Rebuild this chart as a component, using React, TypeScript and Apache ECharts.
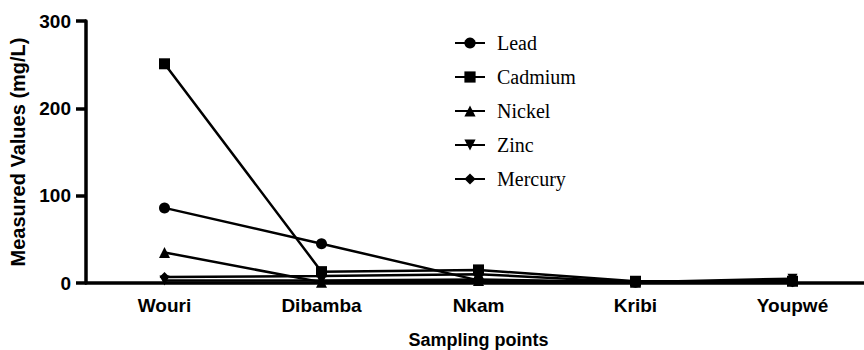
import React, { useEffect, useRef } from "react";
import * as echarts from "echarts";

const categories = ["Wouri", "Dibamba", "Nkam", "Kribi", "Youpwé"];
const lead = [86, 45, 3, 1, 2];
const cadmium = [251, 13, 15, 2, 2];
const nickel = [35, 1, 3, 1, 3];
const zinc = [3, 3, 4, 1, 5];
const mercury = [7, 8, 10, 1, 1];
const yTicks = { min: 0, max: 300, interval: 100 };

export default function App() {
  const ref = useRef<HTMLDivElement>(null);
  useEffect(() => {
    if (!ref.current) return;
    const chart = echarts.init(ref.current, null, { renderer: "svg" });
    const mk = (name: string, data: number[], symbol: string, size: number, rotate = 0) => ({
      name,
      type: "line",
      data,
      symbol,
      symbolSize: size,
      symbolRotate: rotate,
      showAllSymbol: true,
      lineStyle: { color: "#000", width: 2.5 },
      itemStyle: { color: "#000" },
      z: 3,
    });
    chart.setOption({
      animation: false,
      backgroundColor: "#fff",
      grid: { left: 86, right: -7, top: 21, bottom: 67, outerBoundsMode: "none", containLabel: false },
      legend: {
        orient: "vertical",
        left: 449,
        top: 28,
        itemWidth: 30,
        itemHeight: 14,
        itemGap: 14,
        selectedMode: false,
        textStyle: {
          fontFamily: "Liberation Serif",
          fontSize: 20,
          color: "#000",
          padding: [0, 0, 0, 7],
        },
        data: ["Lead", "Cadmium", "Nickel", "Zinc", "Mercury"],
      },
      xAxis: {
        type: "category",
        data: categories,
        boundaryGap: true,
        name: "Sampling points",
        nameLocation: "middle",
        nameGap: 48,
        nameTextStyle: { fontFamily: "Liberation Sans", fontWeight: "bold", fontSize: 18, color: "#000" },
        axisLine: { lineStyle: { color: "#000", width: 3.5 } },
        axisTick: { alignWithLabel: true, length: 10, lineStyle: { color: "#000", width: 3.5 } },
        axisLabel: { margin: 13, fontFamily: "Liberation Sans", fontWeight: "bold", fontSize: 19, color: "#000" },
        splitLine: { show: false },
      },
      yAxis: {
        type: "value",
        min: yTicks.min,
        max: yTicks.max,
        interval: yTicks.interval,
        name: "Measured Values (mg/L)",
        nameLocation: "middle",
        nameGap: 50,
        nameTextStyle: { fontFamily: "Liberation Sans", fontWeight: "bold", fontSize: 20, color: "#000" },
        axisLine: { show: true, lineStyle: { color: "#000", width: 3.5 } },
        axisTick: { show: true, length: 10, lineStyle: { color: "#000", width: 3.5 } },
        axisLabel: { margin: 15, fontFamily: "Liberation Sans", fontWeight: "bold", fontSize: 19, color: "#000" },
        splitLine: { show: false },
      },
      series: [
        mk("Lead", lead, "circle", 11),
        mk("Cadmium", cadmium, "rect", 11),
        mk("Nickel", nickel, "triangle", 11),
        mk("Zinc", zinc, "triangle", 10, 180),
        mk("Mercury", mercury, "diamond", 10),
      ],
    });
    return () => chart.dispose();
  }, []);
  return <div ref={ref} style={{ width: 864, height: 350, position: "absolute", left: 0, top: 0 }} />;
}
